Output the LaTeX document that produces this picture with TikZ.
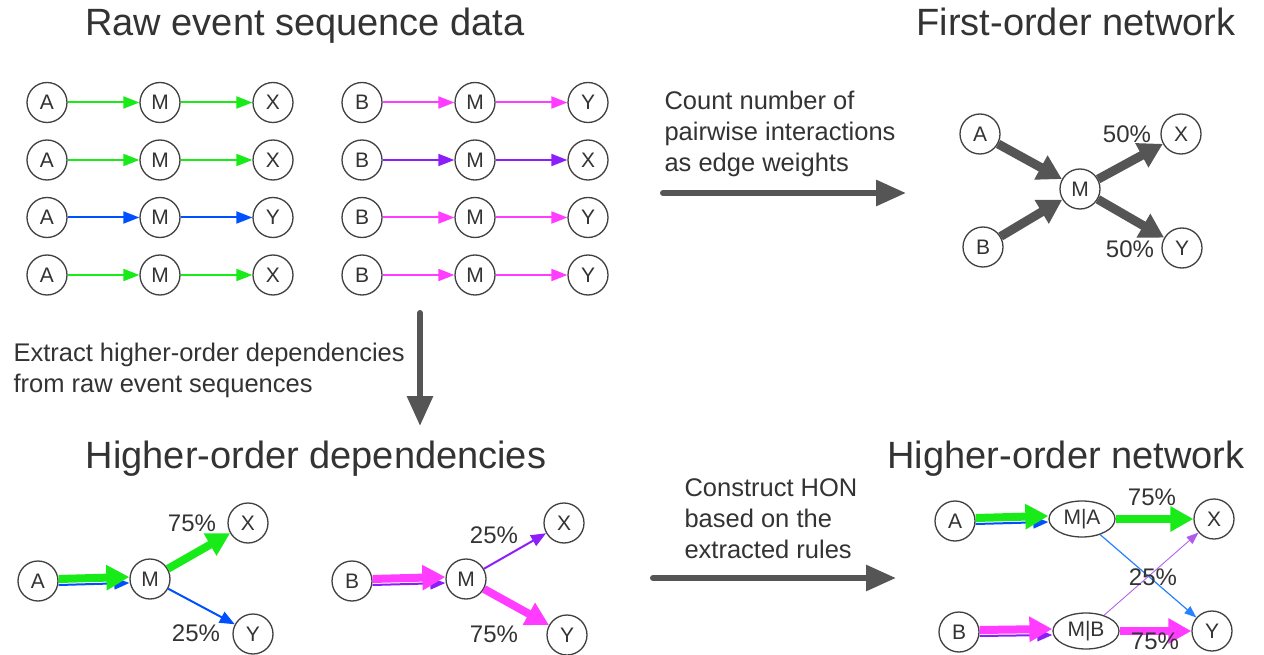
\documentclass[tikz,border=0pt]{standalone}
\usepackage{fontspec}
\setmainfont{Liberation Sans}
\usetikzlibrary{arrows.meta,shapes.geometric}
\pgfdeclarelayer{background}
\pgfsetlayers{background,main}
\definecolor{txt}{RGB}{51,51,51}
\definecolor{hgreen}{RGB}{25,235,25}
\definecolor{hblue}{RGB}{0,80,255}
\definecolor{lblue}{RGB}{40,130,255}
\definecolor{hpink}{RGB}{255,60,255}
\definecolor{hpurple}{RGB}{140,30,250}
\definecolor{lpurple}{RGB}{175,90,235}
\definecolor{flowgray}{RGB}{85,85,85}

\begin{document}
\begin{tikzpicture}[x=1pt, y=-1pt,
  vtx/.style={circle, draw=black!75, line width=1.3pt, minimum size=40pt, inner sep=0pt, fill=white, text=txt, font=\fontsize{21}{21}\selectfont},
  ctx/.style={ellipse, draw=black!75, line width=1.3pt, minimum width=66pt, minimum height=36pt, inner sep=0pt, fill=white, text=txt, font=\fontsize{21}{21}\selectfont},
  title/.style={anchor=base, text=txt, font=\fontsize{38}{38}\selectfont},
  note/.style={anchor=base west, align=left, text=txt, font=\fontsize{25.5}{31}\selectfont},
  pct/.style={text=txt, font=\fontsize{24}{24}\selectfont},
  seq/.style={line width=2pt, -{Triangle[length=16pt,width=12pt]}},
  minor/.style={line width=2pt, -{Triangle[length=15pt,width=12pt]}},
  faint/.style={line width=1.2pt, -{Triangle[length=12pt,width=9pt]}},
  major/.style={line width=8pt, -{Triangle[length=23pt,width=24pt]}},
  fon/.style={line width=9pt, draw=flowgray, -{Triangle[length=24pt,width=26pt]}},
  flow/.style={line width=6pt, draw=flowgray, line cap=round, -{Triangle[length=30pt,width=25pt]}}]
\useasboundingbox (0,0) rectangle (1264,655);

% titles and notes
\node[title] (rawT) at (305,36) {Raw event sequence data};
\node[title] (fonT) at (1076,36) {First-order network};
\node[title] (hodT) at (316,468) {Higher-order dependencies};
\node[title] (honT) at (1066,468) {Higher-order network};
\node[note] (cntN) at (661,172) {Count number of\\pairwise interactions\\as edge weights};
\node[note] (extN) at (10,392) {Extract higher-order dependencies\\from raw event sequences};
\node[note] (conN) at (681,558) {Construct HON\\based on the\\extracted rules};

% raw sequences
\foreach \last/\col [count=\i] in {X/hgreen, X/hgreen, Y/hblue, X/hgreen} {
  \node[vtx] (a\i) at (47,45+57.5*\i) {A};
  \node[vtx] (m\i) at (160,45+57.5*\i) {M};
  \node[vtx] (e\i) at (273,45+57.5*\i) {\last};
  \draw[seq, draw=\col, fill=\col] (a\i) -- (m\i);
  \draw[seq, draw=\col, fill=\col] (m\i) -- (e\i);
}
\foreach \last/\col [count=\i] in {Y/hpink, X/hpurple, Y/hpink, Y/hpink} {
  \node[vtx] (b\i) at (362,45+57.5*\i) {B};
  \node[vtx] (n\i) at (475,45+57.5*\i) {M};
  \node[vtx] (f\i) at (588,45+57.5*\i) {\last};
  \draw[seq, draw=\col, fill=\col] (b\i) -- (n\i);
  \draw[seq, draw=\col, fill=\col] (n\i) -- (f\i);
}

% first-order network
\node[vtx] (fA) at (980,134) {A};
\node[vtx] (fB) at (983,247) {B};
\node[vtx] (fM) at (1080,189) {M};
\node[vtx] (fX) at (1181,134) {X};
\node[vtx] (fY) at (1182,248) {Y};
\draw[fon, fill=flowgray] (fA) -- (fM);
\draw[fon, fill=flowgray] (fB) -- (fM);
\draw[fon, fill=flowgray] (fM) -- (fX);
\draw[fon, fill=flowgray] (fM) -- (fY);
\node[pct] (fpX) at (1127,134) {50\%};
\node[pct] (fpY) at (1130,249) {50\%};

% higher-order dependencies
\node[vtx] (hA) at (38,581) {A};
\node[vtx] (hM) at (150,579) {M};
\node[vtx] (hX) at (248,523) {X};
\node[vtx] (hY) at (253,634) {Y};
\draw[minor, draw=hblue, fill=hblue] ([yshift=-4pt]hA.east) -- ([yshift=-4pt]hM.west);
\draw[major, draw=hgreen, fill=hgreen] ([yshift=2pt]hA.east) -- ([yshift=2pt]hM.west);
\draw[major, draw=hgreen, fill=hgreen] (hM) -- (hX);
\draw[minor, draw=hblue, fill=hblue] (hM) -- (hY);
\node[pct] (hpX) at (192,523) {75\%};
\node[pct] (hpY) at (196,633) {25\%};

\node[vtx] (rB) at (352,581) {B};
\node[vtx] (rM) at (466,579) {M};
\node[vtx] (rX) at (564,523) {X};
\node[vtx] (rY) at (567,635) {Y};
\draw[minor, draw=hpurple, fill=hpurple] ([yshift=-4pt]rB.east) -- ([yshift=-4pt]rM.west);
\draw[major, draw=hpink, fill=hpink] ([yshift=2pt]rB.east) -- ([yshift=2pt]rM.west);
\draw[minor, draw=hpurple, fill=hpurple] (rM) -- (rX);
\draw[major, draw=hpink, fill=hpink] (rM) -- (rY);
\node[pct] (rpX) at (494,535) {25\%};
\node[pct] (rpY) at (494,634) {75\%};

% higher-order network
\node[vtx] (nA) at (955,521) {A};
\node[ctx] (nMA) at (1082,519) {M|A};
\node[vtx] (nX) at (1214,519) {X};
\node[vtx] (nB) at (959,632) {B};
\node[ctx] (nMB) at (1086,631) {M|B};
\node[vtx] (nY) at (1212,631) {Y};
\draw[minor, draw=hblue, fill=hblue] ([yshift=-3pt]nA.east) -- ([yshift=-3pt]nMA.west);
\draw[major, draw=hgreen, fill=hgreen] ([yshift=3pt]nA.east) -- ([yshift=3pt]nMA.west);
\draw[major, draw=hgreen, fill=hgreen] (nMA) -- (nX);
\draw[faint, draw=lblue, fill=lblue] (nMA) -- (nY);
\draw[faint, line width=0.8pt, draw=lpurple, fill=lpurple] (nMB) -- (nX);
\draw[minor, draw=hpurple, fill=hpurple] ([yshift=-4pt]nB.east) -- ([yshift=-4pt]nMB.west);
\draw[major, draw=hpink, fill=hpink] ([yshift=2pt]nB.east) -- ([yshift=2pt]nMB.west);
\draw[major, draw=hpink, fill=hpink] (nMB) -- (nY);
\node[pct] (npX) at (1152,497) {75\%};
\node[pct] (npM) at (1153,577) {25\%};
\node[pct] (npY) at (1155,641) {75\%};

% process arrows
\coordinate (cntS) at (663,193); \coordinate (cntE) at (906,193);
\coordinate (extS) at (420,313); \coordinate (extE) at (420,426);
\coordinate (conS) at (653,578); \coordinate (conE) at (896,578);
\foreach \s/\e in {cntS/cntE, extS/extE, conS/conE}
  \draw[flow, fill=flowgray] (\s) -- (\e);
\end{tikzpicture}
\end{document}
